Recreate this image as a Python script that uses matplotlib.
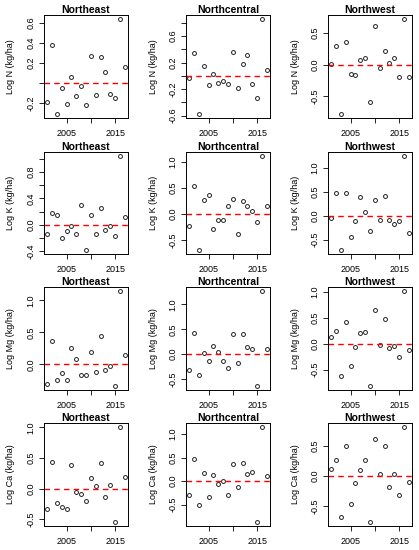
import numpy as np
import matplotlib
matplotlib.use("Agg")
import matplotlib.pyplot as plt

plt.rcParams['font.family'] = ['Liberation Sans', 'DejaVu Sans']

years = np.arange(2001, 2018)
regions = ['Northeast', 'Northcentral', 'Northwest']
nutrients = ['N', 'K', 'Mg', 'Ca']

# log values, one list per nutrient and region
n_ne = [-0.19, 0.38, -0.31, -0.05, -0.21, 0.06, -0.13, -0.03, -0.22, 0.27, -0.12, 0.26, 0.11, -0.11, -0.15, 0.64, 0.16]
n_nc = [-0.03, 0.35, -0.58, 0.15, -0.14, 0.03, -0.11, -0.08, -0.12, 0.36, -0.19, 0.18, 0.32, -0.13, -0.34, 0.86, 0.09]
n_nw = [0.01, 0.30, -0.78, 0.35, -0.15, -0.17, 0.08, 0.11, -0.59, 0.61, -0.05, 0.22, 0.02, 0.10, -0.20, 0.72, -0.20]

k_ne = [-0.15, 0.17, 0.15, -0.21, -0.10, -0.02, -0.14, 0.30, -0.39, 0.14, -0.15, 0.26, -0.08, -0.02, -0.17, 1.05, 0.11]
k_nc = [-0.24, 0.53, -0.70, 0.27, 0.36, -0.29, -0.12, -0.12, 0.15, 0.28, -0.38, 0.24, 0.14, 0.05, -0.15, 1.11, 0.14]
k_nw = [-0.05, 0.48, -0.72, 0.47, -0.45, -0.11, 0.40, 0.08, -0.32, 0.33, -0.10, 0.42, -0.10, -0.17, -0.12, 1.25, -0.36]

mg_ne = [-0.31, 0.36, -0.25, -0.13, -0.25, 0.26, 0.08, -0.17, -0.17, 0.19, -0.12, 0.45, -0.09, -0.03, -0.34, 1.15, 0.15]
mg_nc = [-0.31, 0.42, -0.41, 0.03, -0.13, 0.17, 0.04, -0.13, -0.27, 0.40, -0.17, 0.41, 0.14, 0.10, -0.64, 1.27, 0.11]
mg_nw = [0.13, 0.24, -0.63, 0.41, -0.43, -0.06, 0.20, 0.23, -0.82, 0.65, -0.02, 0.47, -0.08, -0.05, -0.26, 1.02, -0.12]

ca_ne = [-0.34, 0.44, -0.24, -0.30, -0.33, 0.39, -0.05, -0.09, -0.20, 0.18, 0.05, 0.42, -0.13, 0.06, -0.55, 1.01, 0.19]
ca_nc = [-0.30, 0.46, -0.51, 0.18, -0.33, 0.13, -0.06, 0.01, -0.30, 0.37, -0.13, 0.38, 0.16, 0.20, -0.87, 1.15, 0.11]
ca_nw = [0.11, 0.27, -0.68, 0.49, -0.46, -0.12, 0.10, 0.27, -0.76, 0.61, 0.03, 0.49, -0.18, 0.03, -0.31, 0.81, -0.10]

data = [[n_ne, n_nc, n_nw],
        [k_ne, k_nc, k_nw],
        [mg_ne, mg_nc, mg_nw],
        [ca_ne, ca_nc, ca_nw]]

# y ticks per panel and which ones carry a label
step2 = lambda a, b: np.round(np.arange(a, b + 0.01, 0.2), 1)
yticks = [[step2(-0.2, 0.6), step2(-0.6, 0.8), [-0.5, 0, 0.5]],
          [step2(-0.4, 1.0), [-0.5, 0, 0.5, 1.0], [-0.5, 0, 0.5, 1.0]],
          [[0, 0.5, 1.0], [-0.5, 0, 0.5, 1.0], [-0.5, 0, 0.5, 1.0]],
          [[-0.5, 0, 0.5, 1.0], [-0.5, 0, 0.5, 1.0], [-0.5, 0, 0.5]]]
ylabels = [[['-0.2', '', '0.2', '0.4', '0.6'],
            ['-0.6', '', '-0.2', '', '0.2', '', '0.6', ''],
            ['-0.5', '0.0', '0.5']],
           [['-0.4', '', '0.0', '', '0.4', '', '0.8', ''],
            ['-0.5', '0.0', '0.5', '1.0'], ['-0.5', '0.0', '0.5', '1.0']],
           [['0.0', '0.5', '1.0'], ['-0.5', '0.0', '0.5', '1.0'], ['-0.5', '0.0', '0.5', '1.0']],
           [['-0.5', '0.0', '0.5', '1.0'], ['-0.5', '0.0', '0.5', '1.0'], ['-0.5', '0.0', '0.5']]]

W, H = 419, 550
fig = plt.figure(figsize=(W / 100, H / 100), dpi=100)

lefts = [44, 186, 328]
tops = [15, 152, 287, 423]
bottoms = [118, 254, 390, 526]
width = 84

for i, nut in enumerate(nutrients):
    for j, reg in enumerate(regions):
        ax = fig.add_axes([lefts[j] / W, 1 - bottoms[i] / H, width / W, (bottoms[i] - tops[i]) / H])
        ax.plot(years, data[i][j], 'o', ms=2.8, mfc='none', mec='#222222', mew=0.7)
        ax.axhline(0, color='red', ls=(0, (4, 3)), lw=1.0)
        ax.margins(x=0.04, y=0.04)
        ax.set_title(reg, fontsize=7.5, fontweight='bold', pad=1.5)
        ax.set_ylabel('Log %s (kg/ha)' % nut, fontsize=6.5)
        ax.yaxis.set_label_coords(-28.5 / width, 0.5)
        ax.set_xticks([2005, 2010, 2015])
        ax.set_xticklabels(['2005', '', '2015'])
        ax.set_yticks(yticks[i][j])
        ax.set_yticklabels(ylabels[i][j], rotation=90, va='center')
        ax.tick_params(labelsize=6.5, length=3.3, width=0.6)
        ax.tick_params(axis='x', pad=4.5)
        ax.tick_params(axis='y', pad=3)
        for sp in ax.spines.values():
            sp.set_linewidth(0.7)

plt.savefig('out.png', dpi=100)
